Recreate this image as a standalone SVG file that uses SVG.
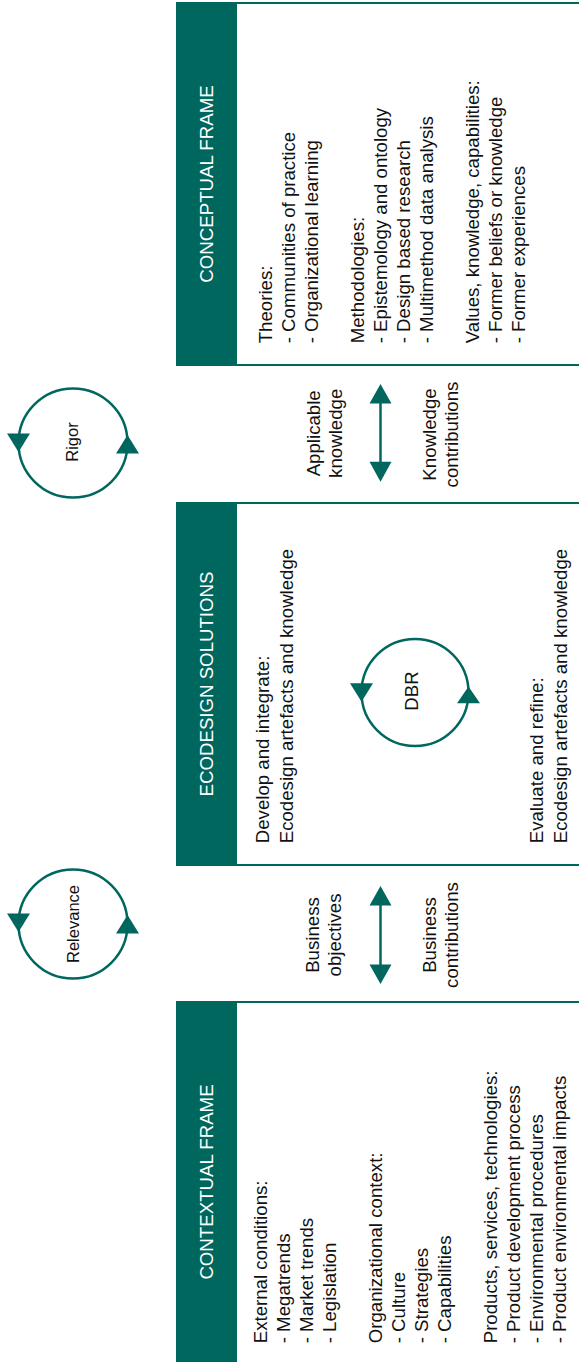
<svg xmlns="http://www.w3.org/2000/svg" width="579" height="1362" viewBox="0 0 579 1362">
<style>
.box{fill:#fff;stroke:#00675f;stroke-width:2}
.band{fill:#00675f}
.hd{font-family:"Liberation Sans",Arial,sans-serif;font-size:18.67px;fill:#fff;text-anchor:middle}
.tx{font-family:"Liberation Sans",Arial,sans-serif;font-size:18.67px;fill:#111}
.mid{text-anchor:middle}
.sm{font-family:"Liberation Sans",Arial,sans-serif;font-size:16.5px;fill:#111;text-anchor:middle}
.ring{fill:none;stroke:#00675f;stroke-width:2.5}
.ah{fill:#00675f}
.ln{stroke:#00675f;stroke-width:2.5}
</style>
<rect width="579" height="1362" fill="#fff"/>
<g id="conceptual">
<rect class="box" x="177" y="3" width="420" height="362"/>
<rect class="band" x="176" y="2" width="61" height="364"/>
<text class="hd" transform="translate(213.3,184) rotate(-90)">CONCEPTUAL FRAME</text>
<text class="tx" transform="translate(272,343.3) rotate(-90)"><tspan x="0" y="0">Theories:</tspan><tspan x="0" y="23">- Communities of practice</tspan><tspan x="0" y="46">- Organizational learning</tspan><tspan x="0" y="92">Methodologies:</tspan><tspan x="0" y="115">- Epistemology and ontology</tspan><tspan x="0" y="138">- Design based research</tspan><tspan x="0" y="161">- Multimethod data analysis</tspan><tspan x="0" y="207">Values, knowledge, capabilities:</tspan><tspan x="0" y="230">- Former beliefs or knowledge</tspan><tspan x="0" y="253">- Former experiences</tspan></text>
</g>
<g id="ecodesign">
<rect class="box" x="177" y="503" width="420" height="362"/>
<rect class="band" x="176" y="502" width="61" height="364"/>
<text class="hd" transform="translate(213.3,684) rotate(-90)">ECODESIGN SOLUTIONS</text>
<text class="tx" transform="translate(268.5,843.3) rotate(-90)"><tspan x="0" y="0">Develop and integrate:</tspan><tspan x="0" y="24">Ecodesign artefacts and knowledge</tspan></text>
<text class="tx" transform="translate(543.3,843.3) rotate(-90)"><tspan x="0" y="0">Evaluate and refine:</tspan><tspan x="0" y="23.4">Ecodesign artefacts and knowledge</tspan></text>
</g>
<g id="contextual">
<rect class="box" x="177" y="1002" width="420" height="362"/>
<rect class="band" x="176" y="1001" width="61" height="364"/>
<text class="hd" transform="translate(213.3,1182) rotate(-90)">CONTEXTUAL FRAME</text>
<text class="tx" transform="translate(266.7,1343.3) rotate(-90)"><tspan x="0" y="0">External conditions:</tspan><tspan x="0" y="23">- Megatrends</tspan><tspan x="0" y="46">- Market trends</tspan><tspan x="0" y="69">- Legislation</tspan><tspan x="0" y="115">Organizational context:</tspan><tspan x="0" y="138">- Culture</tspan><tspan x="0" y="161">- Strategies</tspan><tspan x="0" y="184">- Capabilities</tspan><tspan x="0" y="230">Products, services, technologies:</tspan><tspan x="0" y="253">- Product development process</tspan><tspan x="0" y="276">- Environmental procedures</tspan><tspan x="0" y="299">- Product environmental impacts</tspan></text>
</g>
<g id="rigor">
<circle class="ring" cx="73" cy="443" r="54.5"/>
<polygon class="ah" points="7,433.5 30,433.5 18.5,452"/>
<polygon class="ah" points="127.5,435 116,453.5 139,453.5"/>
<text class="sm" transform="translate(78,442) rotate(-90)">Rigor</text>
</g>
<g id="relevance">
<circle class="ring" cx="73" cy="924" r="54.5"/>
<polygon class="ah" points="7,913.5 30,913.5 18.5,932"/>
<polygon class="ah" points="127.5,915 116,933.5 139,933.5"/>
<text class="sm" transform="translate(79,924) rotate(-90)">Relevance</text>
</g>
<g id="dbr">
<circle class="ring" cx="415" cy="692.5" r="53.5"/>
<polygon class="ah" points="350,683.3 373,683.3 361.5,701.7"/>
<polygon class="ah" points="468.5,686.5 457,703.3 480,703.3"/>
<text class="tx mid" transform="translate(418.3,691) rotate(-90)">DBR</text>
</g>
<g id="connectors">
<line class="ln" x1="380.5" y1="400" x2="380.5" y2="465"/>
<polygon class="ah" points="380.5,384 369.5,403.5 391.5,403.5"/>
<polygon class="ah" points="380.5,481.7 369.5,461.7 391.5,461.7"/>
<line class="ln" x1="380.5" y1="902" x2="380.5" y2="968"/>
<polygon class="ah" points="380.5,886 369.5,905.5 391.5,905.5"/>
<polygon class="ah" points="380.5,984 369.5,964.5 391.5,964.5"/>
</g>
<g id="labels">
<text class="tx mid" transform="translate(320,433.3) rotate(-90)"><tspan x="0" y="0">Applicable</tspan><tspan x="0" y="21.7">knowledge</tspan></text>
<text class="tx mid" transform="translate(436,434.5) rotate(-90)"><tspan x="0" y="0">Knowledge</tspan><tspan x="0" y="21.7">contributions</tspan></text>
<text class="tx mid" transform="translate(319,935) rotate(-90)"><tspan x="0" y="0">Business</tspan><tspan x="0" y="21.7">objectives</tspan></text>
<text class="tx mid" transform="translate(436,935) rotate(-90)"><tspan x="0" y="0">Business</tspan><tspan x="0" y="21.7">contributions</tspan></text>
</g>
</svg>
